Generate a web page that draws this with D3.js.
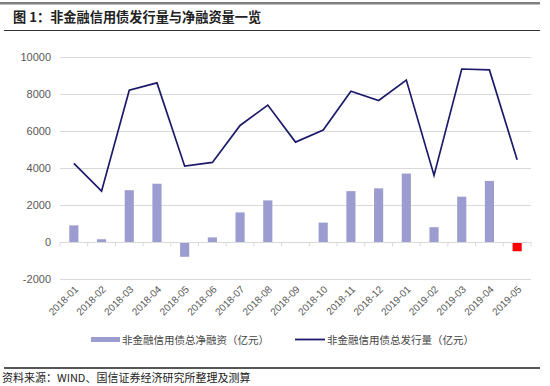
<!DOCTYPE html>
<html>
<head>
<meta charset="utf-8">
<script src="https://cdn.jsdelivr.net/npm/d3@7"></script>
<style>
  body { margin: 0; background: #fff; }
  svg { display: block; font-family: "Liberation Sans", Arial, sans-serif; }
</style>
</head>
<body>
<div id="chart"></div>
<script>

// months on the x axis
var months = ["2018-01", "2018-02", "2018-03", "2018-04", "2018-05", "2018-06",
              "2018-07", "2018-08", "2018-09", "2018-10", "2018-11", "2018-12",
              "2019-01", "2019-02", "2019-03", "2019-04", "2019-05"];

// net financing (bars), 亿元
var netFinancing = [900, 150, 2800, 3150, -800, 250, 1600, 2250, -50, 1050,
                    2750, 2900, 3700, 800, 2450, 3300, -500];

// total issuance (line), 亿元
var issuance = [4250, 2750, 8200, 8600, 4100, 4300, 6300, 7400, 5400, 6050,
                8150, 7650, 8750, 3600, 9350, 9300, 4450];

var yTicks = [-2000, 0, 2000, 4000, 6000, 8000, 10000];

var barName = "非金融信用债总净融资（亿元）";
var lineName = "非金融信用债总发行量（亿元）";

var width = 550, height = 386;
var cjk = "'Noto Sans CJK SC', 'Noto Sans', sans-serif";

var svg = d3.select("#chart").append("svg")
    .attr("width", width)
    .attr("height", height);

// header and footer rules
svg.append("rect").attr("x", 0).attr("y", 2).attr("width", 540).attr("height", 2.5).attr("fill", "#7f7f7f");
svg.append("line").attr("x1", 4).attr("x2", 540).attr("y1", 30.5).attr("y2", 30.5).attr("stroke", "#333").attr("stroke-width", 1);
svg.append("rect").attr("x", 4).attr("y", 367).attr("width", 536).attr("height", 2).attr("fill", "#555");

svg.append("text")
    .attr("x", 13).attr("y", 22)
    .attr("font-family", cjk)
    .attr("font-size", 13.2)
    .attr("font-weight", "bold")
    .attr("fill", "#222")
    .text("图 1：非金融信用债发行量与净融资量一览");

svg.append("text")
    .attr("x", 2).attr("y", 382)
    .attr("font-family", cjk)
    .attr("font-size", 11)
    .attr("fill", "#222")
    .text("资料来源：WIND、国信证券经济研究所整理及测算");

var x = d3.scaleBand()
    .domain(months)
    .range([60, 531])
    .paddingInner(0.67)
    .paddingOuter(0.335);

var y = d3.scaleLinear()
    .domain([-2000, 10000])
    .range([279, 57]);

// gridlines
svg.append("g").selectAll("line")
    .data(yTicks.filter(function(d) { return d !== 0; }))
    .enter().append("line")
    .attr("x1", 60).attr("x2", 531)
    .attr("y1", function(d) { return Math.round(y(d)) + 0.5; })
    .attr("y2", function(d) { return Math.round(y(d)) + 0.5; })
    .attr("stroke", "#d9d9d9");

// y labels
svg.append("g").selectAll("text")
    .data(yTicks)
    .enter().append("text")
    .attr("x", 51)
    .attr("y", function(d) { return y(d) + 4; })
    .attr("text-anchor", "end")
    .attr("font-size", 11)
    .attr("fill", "#595959")
    .text(function(d) { return d; });

// bars
var step = x.step();
svg.append("g").selectAll("rect")
    .data(netFinancing)
    .enter().append("rect")
    .attr("x", function(d, i) { return x(months[i]); })
    .attr("width", x.bandwidth())
    .attr("y", function(d) { return y(Math.max(0, d)); })
    .attr("height", function(d) { return Math.abs(y(d) - y(0)); })
    .attr("fill", function(d, i) { return i === months.length - 1 ? "#ff0000" : "#9c9cd1"; });

// zero axis with category ticks
var zy = Math.round(y(0)) + 0.5;
svg.append("line")
    .attr("x1", 60).attr("x2", 531)
    .attr("y1", zy).attr("y2", zy)
    .attr("stroke", "#d9d9d9");
svg.append("g").selectAll("line")
    .data(d3.range(months.length + 1))
    .enter().append("line")
    .attr("x1", function(i) { return 60 + i * step; })
    .attr("x2", function(i) { return 60 + i * step; })
    .attr("y1", zy).attr("y2", zy + 4)
    .attr("stroke", "#d9d9d9");

// issuance line
var line = d3.line()
    .x(function(d, i) { return x(months[i]) + x.bandwidth() / 2; })
    .y(function(d) { return y(d); });

svg.append("path")
    .datum(issuance)
    .attr("d", line)
    .attr("fill", "none")
    .attr("stroke", "#1c1a6b")
    .attr("stroke-width", 1.7)
    .attr("stroke-linejoin", "miter");

// x labels, rotated
svg.append("g").selectAll("text")
    .data(months)
    .enter().append("text")
    .attr("transform", function(d) {
        return "translate(" + (x(d) + x.bandwidth() / 2 + 5) + "," + 290 + ") rotate(-45)";
    })
    .attr("text-anchor", "end")
    .attr("font-size", 10)
    .attr("fill", "#595959")
    .text(function(d) { return d; });

// legend
var legend = svg.append("g").attr("font-family", cjk).attr("font-size", 10.5).attr("fill", "#444");
legend.append("rect").attr("x", 91).attr("y", 337).attr("width", 29).attr("height", 5).attr("fill", "#9c9cd1");
legend.append("text").attr("x", 122).attr("y", 343.5).text(barName);
legend.append("line").attr("x1", 295).attr("x2", 325).attr("y1", 339.5).attr("y2", 339.5)
    .attr("stroke", "#1c1a6b").attr("stroke-width", 1.8);
legend.append("text").attr("x", 327).attr("y", 343.5).text(lineName);

</script>
</body>
</html>
